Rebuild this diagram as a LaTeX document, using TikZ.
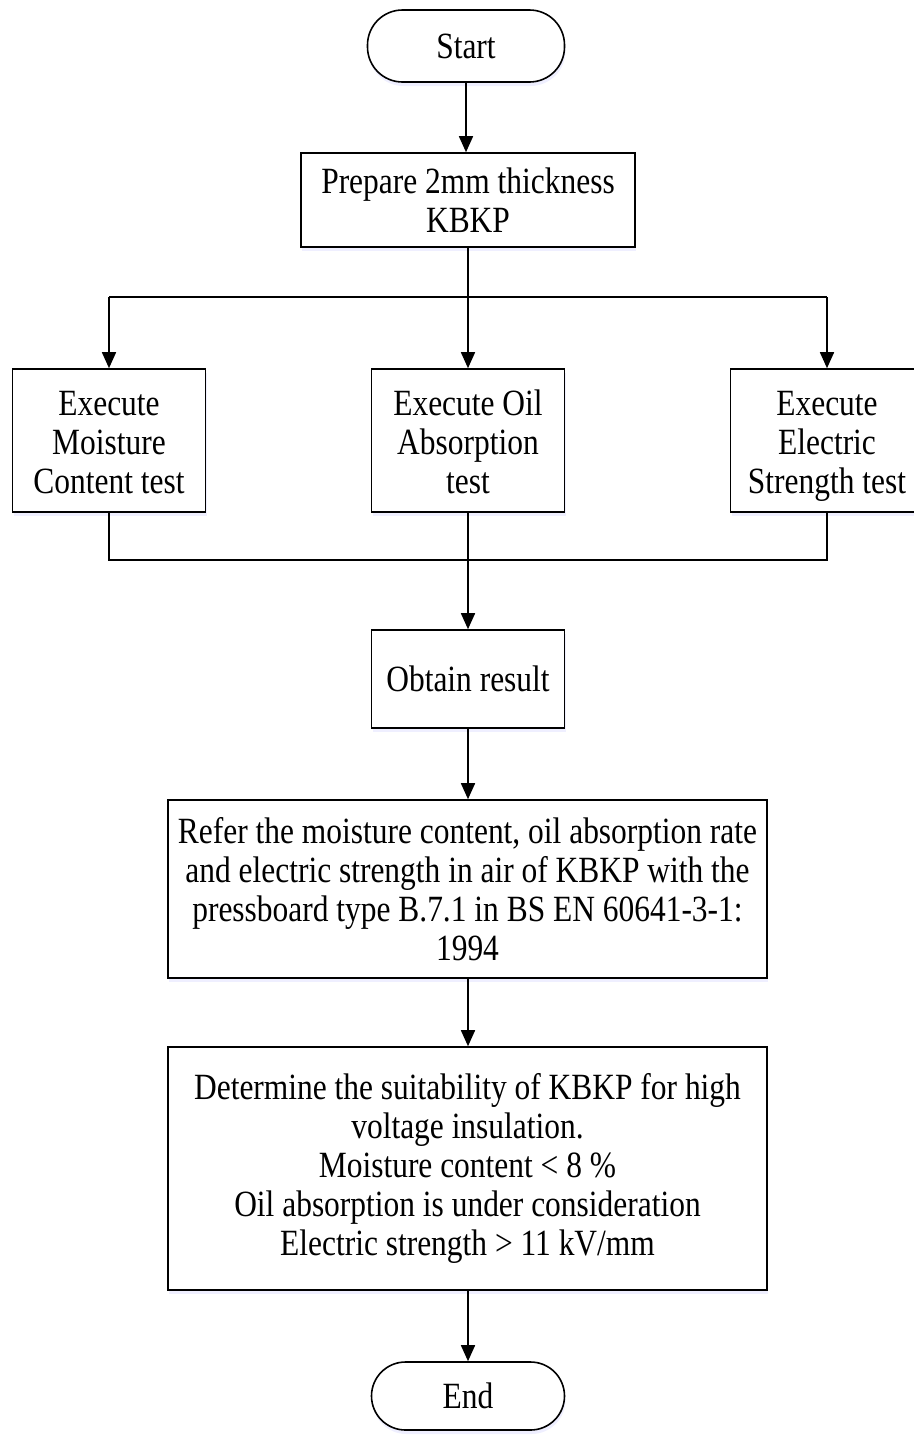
\documentclass[tikz,border=0pt]{standalone}
\usepackage{fontspec}
\setmainfont[FakeStretch=0.85]{Liberation Serif}
\usetikzlibrary{arrows.meta,shadows}
\newcommand{\toppad}{\rule{0pt}{36pt}}
\begin{document}
\begin{tikzpicture}[x=1pt,y=-1pt,
  every node/.style={font=\fontsize{37}{38.8}\selectfont, align=center, inner sep=0pt},
  sh/.style={drop shadow={shadow xshift=1pt, shadow yshift=-4pt, fill=blue!25, opacity=0.25}},
  box/.style={draw, line width=1.6pt, rectangle, fill=white, sh},
  conn/.style={line width=1.6pt},
  arr/.style={conn, -{Triangle[length=16pt,width=14pt]}}
]
\useasboundingbox (0,0) rectangle (913,1435);
\node[draw, line width=1.6pt, fill=white, sh, rounded corners=35pt, minimum width=197pt, minimum height=72pt] (start) at (466,46) {Start};
\node[box, minimum width=334pt, minimum height=94pt] (prep) at (468,200) {Prepare 2mm thickness\\KBKP};
\node[box, minimum width=193pt, minimum height=143pt] (m) at (109,440.5) {\toppad Execute\\Moisture\\Content test\vphantom{g}};
\node[box, minimum width=193pt, minimum height=143pt] (o) at (468,440.5) {\toppad Execute Oil\\Absorption\\test\vphantom{g}};
\node[box, minimum width=193pt, minimum height=143pt] (e) at (827,440.5) {\toppad Execute\\Electric\\Strength test};
\node[box, minimum width=193pt, minimum height=98pt] (res) at (468,679) {Obtain result};
\node[box, minimum width=599pt, minimum height=178pt] (ref) at (467.5,889) {Refer the moisture content, oil absorption rate\\and electric strength in air of KBKP with the\\pressboard type B.7.1 in BS EN 60641-3-1:\\1994};
\node[box, minimum width=599pt, minimum height=243pt] (det) at (467.5,1168.5) {Determine the suitability of KBKP for high\\voltage insulation.\\Moisture content < 8 \%\\Oil absorption is under consideration\\Electric strength > 11 kV/mm};
\node[draw, line width=1.6pt, fill=white, sh, rounded corners=34pt, minimum width=193pt, minimum height=68pt] (end) at (468,1396) {End};
\coordinate (top) at (468,297);
\coordinate (bot) at (468,560);
\draw[arr] (start.south) -- (prep.north -| start.south);
\draw[conn] (prep.south) -- (top);
\draw[conn] (m.north |- top) -- (e.north |- top);
\draw[arr] (m.north |- top) -- (m.north);
\draw[arr] (top) -- (o.north);
\draw[arr] (e.north |- top) -- (e.north);
\draw[conn] (m.south) -- (m.south |- bot) -- (e.south |- bot) -- (e.south);
\draw[arr] (o.south) -- (res.north);
\draw[arr] (res.south) -- (ref.north -| res.south);
\draw[arr] (ref.south -| res.south) -- (det.north -| res.south);
\draw[arr] (det.south -| res.south) -- (end.north);
\end{tikzpicture}
\end{document}
